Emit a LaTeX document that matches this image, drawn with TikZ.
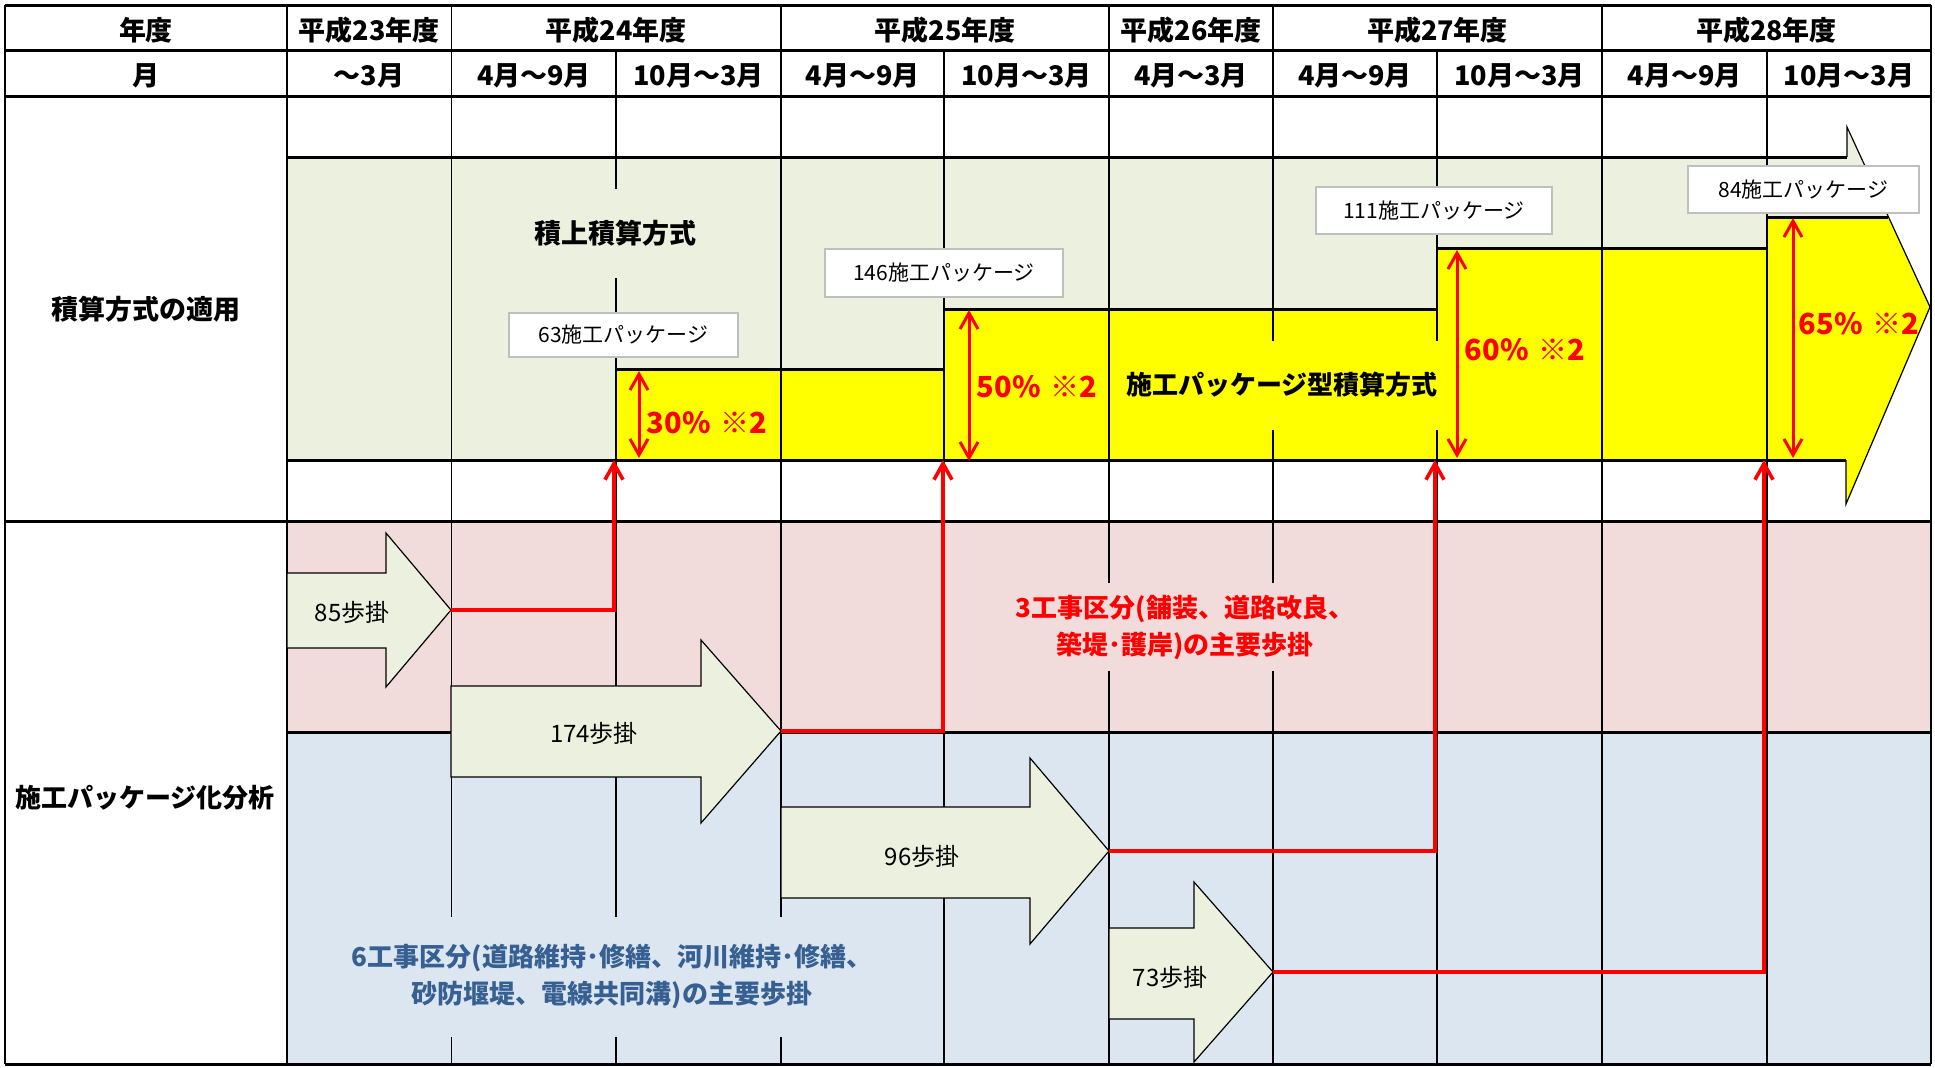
\documentclass[tikz,border=0pt]{standalone}
\usepackage{fontspec}
\setmainfont{Noto Sans CJK JP}
\usetikzlibrary{arrows.meta}

\definecolor{pkgreen}{HTML}{EBF1DE}
\definecolor{pkyellow}{RGB}{255,255,0}
\definecolor{pkred}{RGB}{255,0,0}
\definecolor{pkpink}{HTML}{F2DCDB}
\definecolor{pkblue}{HTML}{DCE6F1}
\definecolor{pkbluetext}{HTML}{376092}
\definecolor{pkboxline}{HTML}{BFBFBF}

\newcommand{\headfont}{\fontsize{13.5pt}{16pt}\selectfont\bfseries}
\newcommand{\boxfont}{\fontsize{10.5pt}{12pt}\selectfont}
\newcommand{\stepfont}{\fontsize{12pt}{14pt}\selectfont}
\newcommand{\notefont}{\fontsize{13pt}{18.5pt}\selectfont\bfseries}
\newcommand{\ratefont}{\fontsize{14.5pt}{16pt}\selectfont\bfseries}

\tikzset{
  gridthin/.style={line width=0.9pt},
  gridthick/.style={line width=1.5pt},
  headtext/.style={font=\headfont, inner sep=0pt},
  pkbox/.style={draw=pkboxline, fill=white, line width=1pt, minimum width=116pt, minimum height=23.5pt, font=\boxfont, inner sep=1pt},
  steparrow/.style={fill=pkgreen, draw=black, line width=0.6pt},
  steptext/.style={font=\stepfont, inner sep=0pt},
  link/.style={draw=pkred, line width=1.8pt, -{Straight Barb[length=8pt,width=9pt]}},
  rate/.style={draw=pkred, line width=1.5pt, {Straight Barb[length=8pt,width=9pt]}-{Straight Barb[length=8pt,width=9pt]}},
  ratetext/.style={font=\ratefont, text=pkred, inner sep=0pt}
}

\begin{document}
\begin{tikzpicture}[x=0.5pt, y=-0.5pt]
\useasboundingbox (0,0) rectangle (1935,1067);

\fill[pkpink] (287,521) rectangle (1931,732);
\fill[pkblue] (287,732) rectangle (1931,1064);

\begin{scope}
  \clip (287,157) -- (1847,157) -- (1847,127) -- (1930,307) -- (1846,504) -- (1846,460) -- (287,460) -- cycle;
  \fill[pkgreen] (280,120) rectangle (1935,510);
  \fill[pkyellow] (616,510) -- (616,369) -- (944,369) -- (944,309) -- (1437,309) -- (1437,248)
    -- (1767,248) -- (1767,217) -- (1935,217) -- (1935,510) -- cycle;
\end{scope}

\foreach \gx in {5,287,451.5,781,1109,1273,1602,1931}
  \draw[gridthin] (\gx,5) -- (\gx,1064);
\foreach \gx in {616,944,1437,1767}
  \draw[gridthin] (\gx,50.7) -- (\gx,1064);
\foreach \gy in {5,50.7,96.7,521,1064}
  \draw[gridthick] (5,\gy) -- (1931,\gy);
\draw[gridthick] (287,732) -- (1931,732);

\draw[gridthick] (287,157) -- (1847,157);
\draw[gridthick] (287,460) -- (1846,460);
\draw[line width=0.6pt] (1847,157) -- (1847,127) -- (1930,307) -- (1846,504) -- (1846,460);
\draw[gridthick] (616,369) -- (944,369) (944,309) -- (1437,309) (1437,248) -- (1767,248) (1767,217) -- (1888,217);

\coordinate (tip85) at (451,610);
\coordinate (tip174) at (781,731);
\coordinate (tip96) at (1109,851);
\coordinate (tip73) at (1273,972);
\draw[steparrow] (287,573) -- (386,573) -- (386,533) -- (tip85) -- (386,687) -- (386,648) -- (287,648) -- cycle;
\draw[steparrow] (451,686) -- (701,686) -- (701,640) -- (tip174) -- (701,823) -- (701,777) -- (451,777) -- cycle;
\draw[steparrow] (781,807) -- (1030,807) -- (1030,758) -- (tip96) -- (1030,944) -- (1030,898) -- (781,898) -- cycle;
\draw[steparrow] (1109,928) -- (1194,928) -- (1194,882) -- (tip73) -- (1194,1062) -- (1194,1019) -- (1109,1019) -- cycle;

\node[steptext] (s85) at (352,612) {85歩掛};
\node[steptext] (s174) at (594,733) {174歩掛};
\node[steptext] (s96) at (922,856) {96歩掛};
\node[steptext] (s73) at (1170,977) {73歩掛};

\node[headtext] (hyear) at (146,30) {年度};
\node[headtext] (hmonth) at (146,75.5) {月};
\foreach \cx/\yr [count=\i] in {369/平成23年度, 616/平成24年度, 945/平成25年度, 1191/平成26年度, 1437.5/平成27年度, 1766.5/平成28年度}
  \node[headtext] (year\i) at (\cx,30) {\yr};
\foreach \cx/\mo [count=\i] in {369/～3月, 534/4月～9月, 698.5/10月～3月, 862.5/4月～9月, 1026.5/10月～3月, 1191/4月～3月, 1355/4月～9月, 1519.5/10月～3月, 1684.5/4月～9月, 1849/10月～3月}
  \node[headtext] (month\i) at (\cx,75.5) {\mo};

\node[headtext] (secA) at (146,309) {積算方式の適用};
\node[headtext, font=\fontsize{13pt}{16pt}\selectfont\bfseries] (secB) at (145,798) {施工パッケージ化分析};

\node[headtext, fill=pkgreen, minimum height=44.5pt, inner xsep=2pt] (oldway) at (615,233) {積上積算方式};
\node[headtext, font=\fontsize{13pt}{16pt}\selectfont\bfseries, fill=pkyellow, minimum height=44.5pt, inner xsep=1pt] (newway) at (1282,385) {施工パッケージ型積算方式};

\node[font=\notefont, text=pkred, fill=pkpink, align=center, inner xsep=2pt, inner ysep=6pt] (note3) at (1185,627)
  {3工事区分(舗装、道路改良、\\築堤･護岸)の主要歩掛};
\node[font=\notefont, text=pkbluetext, fill=pkblue, align=center, inner xsep=2pt, inner ysep=14pt] (note6) at (612,977)
  {6工事区分(道路維持･修繕、河川維持･修繕、\\砂防堰堤、電線共同溝)の主要歩掛};

\node[pkbox, minimum width=114.5pt, minimum height=22pt] (pk63) at (623.5,335) {63施工パッケージ};
\node[pkbox, minimum width=119pt, minimum height=24pt] (pk146) at (944,273) {146施工パッケージ};
\node[pkbox, minimum width=118pt] (pk111) at (1434,210.5) {111施工パッケージ};
\node[pkbox, minimum width=115.5pt] (pk84) at (1803.5,189.5) {84施工パッケージ};

\coordinate (in30) at (614,460);
\coordinate (in50) at (943,460);
\coordinate (in60) at (1435,460);
\coordinate (in65) at (1764,460);
\draw[link] (tip85) -| (in30);
\draw[link] (tip174) -| (in50);
\draw[link] (tip96) -| (in60);
\draw[link] (tip73) -| (in65);

\coordinate (top30) at (639,371);
\coordinate (bot30) at (639,458);
\coordinate (top50) at (969,310);
\coordinate (bot50) at (969,461);
\coordinate (top60) at (1457,250);
\coordinate (bot60) at (1457,458);
\coordinate (top65) at (1793,218);
\coordinate (bot65) at (1793,458);
\draw[rate] (top30) -- (bot30);
\draw[rate] (top50) -- (bot50);
\draw[rate] (top60) -- (bot60);
\draw[rate] (top65) -- (bot65);

\node[ratetext] (p30) at (707,423) {30\%\hspace{5pt}※2};
\node[ratetext] (p50) at (1037,387) {50\%\hspace{5pt}※2};
\node[ratetext] (p60) at (1525,350) {60\%\hspace{5pt}※2};
\node[ratetext] (p65) at (1859,324) {65\%\hspace{5pt}※2};
\end{tikzpicture}
\end{document}
